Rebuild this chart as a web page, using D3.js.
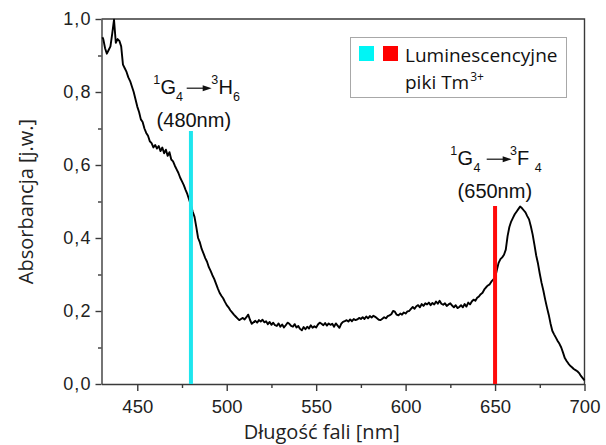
<!DOCTYPE html>
<html><head><meta charset="utf-8">
<script src="https://cdn.jsdelivr.net/npm/d3@7/dist/d3.min.js"></script>
<style>body{margin:0;background:#fff}svg{display:block}</style>
</head><body><svg id="c" width="606" height="445"></svg>
<script>
// ---------- data ----------
const wavelength = [430.5,431,432,433,434,435,436,437,438,439,440,441,442,443,444,445,446,447,448,449,
450,451,452,453,454,455,456,457,458,459,460,461,462,463,464,465,466,467,468,469,
470,471,472,473,474,475,476,477,478,479,480,481,482,483,484,485,486,487,488,489,
490,491,492,493,494,495,496,497,498,499,500,501,502,503,504,505,506,507,508,509,
510,511,512,513,514,515,516,517,518,519,520,521,522,523,524,525,526,527,528,529,
530,531,532,533,534,535,536,537,538,539,540,541,542,543,544,545,546,547,548,549,
550,551,552,553,554,555,556,557,558,559,560,561,562,563,564,565,566,567,568,569,
570,571,572,573,574,575,576,577,578,579,580,581,582,583,584,585,586,587,588,589,
590,591,592,593,594,595,596,597,598,599,600,601,602,603,604,605,606,607,608,609,
610,611,612,613,614,615,616,617,618,619,620,621,622,623,624,625,626,627,628,629,
630,631,632,633,634,635,636,637,638,639,640,641,642,643,644,645,646,647,648,649,
650,651,652,653,654,655,656,657,658,659,660,661,662,663,664,665,666,667,668,669,
670,671,672,673,674,675,676,677,678,679,680,681,682,683,684,685,686,687,688,689,
690,691,692,693,694,695,696,697,698,699,700];
const absorbance = [0.95,0.945,0.92,0.905,0.915,0.925,0.96,0.998,0.935,0.945,0.94,0.925,0.875,0.865,0.855,0.84,0.83,0.815,0.8,0.78,
0.76,0.745,0.725,0.718,0.70,0.688,0.68,0.665,0.66,0.648,0.655,0.645,0.652,0.638,0.648,0.632,0.642,0.625,0.635,0.615,
0.61,0.598,0.588,0.578,0.565,0.555,0.545,0.532,0.52,0.505,0.49,0.472,0.458,0.43,0.40,0.388,0.37,0.358,0.345,0.335,
0.32,0.31,0.298,0.288,0.275,0.262,0.25,0.242,0.235,0.225,0.216,0.21,0.202,0.196,0.19,0.185,0.18,0.175,0.178,0.181,
0.177,0.183,0.19,0.176,0.165,0.169,0.173,0.168,0.175,0.171,0.176,0.169,0.172,0.164,0.17,0.162,0.168,0.161,0.159,0.166,
0.157,0.163,0.155,0.161,0.168,0.165,0.159,0.157,0.164,0.155,0.159,0.151,0.147,0.156,0.15,0.157,0.152,0.161,0.154,0.158,
0.155,0.163,0.168,0.165,0.161,0.167,0.16,0.166,0.162,0.165,0.157,0.166,0.16,0.154,0.165,0.17,0.172,0.175,0.171,0.177,
0.172,0.178,0.175,0.177,0.181,0.178,0.183,0.178,0.185,0.18,0.186,0.182,0.187,0.184,0.18,0.176,0.175,0.179,0.183,0.18,
0.186,0.188,0.191,0.20,0.198,0.19,0.188,0.193,0.19,0.196,0.193,0.199,0.20,0.206,0.211,0.206,0.213,0.216,0.21,0.219,
0.214,0.221,0.218,0.223,0.216,0.222,0.218,0.226,0.22,0.228,0.22,0.217,0.221,0.214,0.218,0.221,0.215,0.21,0.216,0.208,
0.211,0.216,0.21,0.219,0.212,0.223,0.218,0.226,0.231,0.228,0.236,0.24,0.246,0.25,0.259,0.265,0.27,0.273,0.281,0.286,
0.29,0.312,0.332,0.342,0.347,0.354,0.368,0.405,0.43,0.445,0.455,0.465,0.472,0.479,0.486,0.482,0.476,0.47,0.46,0.451,
0.432,0.41,0.382,0.352,0.33,0.302,0.277,0.256,0.232,0.21,0.19,0.166,0.146,0.136,0.127,0.118,0.11,0.10,0.086,0.071,
0.063,0.056,0.05,0.046,0.041,0.038,0.035,0.03,0.022,0.016,0.01];
const xTicks = [450,500,550,600,650,700];
const xMinorTicks = [475,525,575,625,675];
const yTicks = [0,0.2,0.4,0.6,0.8,1.0];
const yMinorTicks = [0.1,0.3,0.5,0.7,0.9];
const peakNm = [480,650];
const peakTop = [0.693,0.488];
const peakColors = ["#1ee6ee","#ff0a0a"];
const legendColors = ["#00f5f5","#ff0000"];
const peakLabels = ["(480nm)","(650nm)"];
const lowerLevel = [["1","G","4"],["1","G","4"]];
const upperLevel = [["3","H","6"],["3","F","4"]];
const xTitle = "Długość fali [nm]";
const yTitle = "Absorbancja [j.w.]";
const legendLines = ["Luminescencyjne","piki Tm"];
const legendSup = "3+";

// ---------- layout ----------
const svg = d3.select("#c");
const L = 101.5, R = 584.5, T = 19, B = 384;
const x = d3.scaleLinear().domain([430,700]).range([L,R]);
const y = d3.scaleLinear().domain([0,1]).range([B,T]);
const axisColor = "#3a3a3a";
const numFont = "'Liberation Sans', Arial, sans-serif";
const txtFont = "'Open Sans', 'Noto Sans', sans-serif";
const fmt = v => d3.format(".1f")(v).replace(".", ",");

// frame (top & right)
svg.append("path").attr("d", `M${L},${T}H${R}V${B}`).attr("fill","none")
  .attr("stroke",axisColor).attr("stroke-width",1.4);

// x axis
const gx = svg.append("g").attr("transform",`translate(0,${B})`)
  .call(d3.axisBottom(x).tickValues(xTicks).tickFormat(d3.format("d")).tickSize(7).tickSizeOuter(0).tickPadding(9));
svg.append("g").attr("transform",`translate(0,${B})`)
  .call(d3.axisBottom(x).tickValues(xMinorTicks).tickFormat("").tickSize(4).tickSizeOuter(0))
  .select(".domain").remove();
gx.selectAll(".tick text").attr("font-size",18.5);
// y axis
const gy = svg.append("g").attr("transform",`translate(${L},0)`)
  .call(d3.axisLeft(y).tickValues(yTicks).tickFormat(fmt).tickSize(6).tickSizeOuter(0).tickPadding(4));
svg.append("g").attr("transform",`translate(${L},0)`)
  .call(d3.axisLeft(y).tickValues(yMinorTicks).tickFormat("").tickSize(3.5).tickSizeOuter(0))
  .select(".domain").remove();
gy.selectAll(".tick text").attr("font-size",18).attr("letter-spacing",1.1);
svg.selectAll(".domain, .tick line").attr("stroke",axisColor).attr("stroke-width",1.4);
svg.selectAll(".tick text").attr("font-family",numFont).attr("fill","#222");

// axis titles
svg.append("text").attr("x",321.7).attr("y",439).attr("text-anchor","middle")
  .attr("font-family",txtFont).attr("font-size",20).attr("fill","#222").text(xTitle);
svg.append("text").attr("transform",`translate(33.3,${(T+B)/2}) rotate(-90)`).attr("text-anchor","middle")
  .attr("font-family",txtFont).attr("font-size",20).attr("fill","#222").text(yTitle);

// spectrum
const line = d3.line().x((d,i)=>x(wavelength[i])).y(d=>y(d));
svg.append("path").datum(absorbance).attr("d",line).attr("fill","none")
  .attr("stroke","#000").attr("stroke-width",1.9).attr("stroke-linejoin","round");

// luminescence peak markers
peakNm.forEach((nm,i)=>{
  svg.append("line").attr("x1",x(nm)).attr("x2",x(nm)).attr("y1",y(peakTop[i])).attr("y2",B)
    .attr("stroke",peakColors[i]).attr("stroke-width",4);
});

// transition annotations (layout positions in px)
const annLayout = [
  {base:93.5, low:[153.3,160.4,176.1], arrow:[186.7,211.7], up:[211.3,218.4,233.0], nm:[156.6,127]},
  {base:164.5, low:[450.3,457.4,473.6], arrow:[486.7,511.7], up:[510.0,517.1,534.7], nm:[457.6,198]}
];
function levelText(g, xs, base, parts){
  const t = g.append("text");
  t.append("tspan").attr("x",xs[0]).attr("y",base-10).attr("font-size",12.5).text(parts[0]);
  t.append("tspan").attr("x",xs[1]).attr("y",base).attr("font-size",20).text(parts[1]);
  t.append("tspan").attr("x",xs[2]).attr("y",base+7).attr("font-size",12.5).text(parts[2]);
}
peakNm.forEach((nm,i)=>{
  const g = svg.append("g").attr("font-family",numFont).attr("fill","#111");
  const p = annLayout[i];
  levelText(g, p.low, p.base, lowerLevel[i]);
  const [a0,a1] = p.arrow, ay = p.base-5.3;
  g.append("line").attr("x1",a0).attr("x2",a1-6).attr("y1",ay).attr("y2",ay).attr("stroke","#111").attr("stroke-width",1.2);
  g.append("path").attr("d",`M${a1},${ay}L${a1-9},${ay-3}L${a1-9},${ay+3}Z`).attr("fill","#111");
  levelText(g, p.up, p.base, upperLevel[i]);
  g.append("text").attr("x",p.nm[0]).attr("y",p.nm[1]).attr("font-size",20).text(peakLabels[i]);
});

// legend
const lg = svg.append("g");
lg.append("rect").attr("x",350.5).attr("y",37.5).attr("width",216).attr("height",60)
  .attr("fill","#fff").attr("stroke","#a8a8a8").attr("stroke-width",1);
legendColors.forEach((c,i)=>{
  lg.append("rect").attr("x",359+i*24).attr("y",46).attr("width",15).attr("height",15).attr("fill",c);
});
lg.append("text").attr("x",405).attr("y",62).attr("font-family",txtFont).attr("font-size",19).attr("fill","#111").text(legendLines[0]);
const t2 = lg.append("text").attr("x",405).attr("y",89).attr("font-family",txtFont).attr("font-size",19).attr("fill","#111");
t2.append("tspan").text(legendLines[1]);
t2.append("tspan").attr("font-size",12).attr("dy",-8).attr("dx",1).text(legendSup);
</script></body></html>
